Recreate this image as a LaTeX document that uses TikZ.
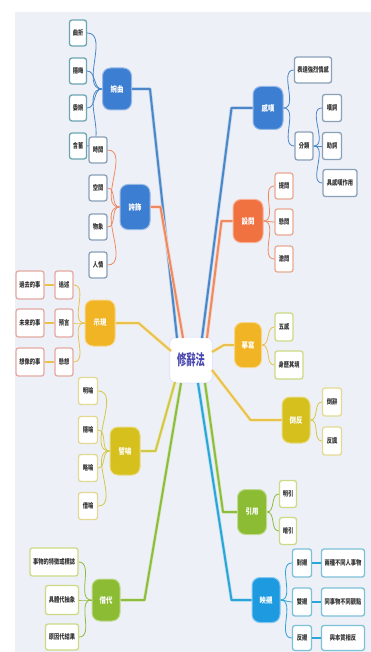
\documentclass[tikz,border=0pt]{standalone}
\usepackage{fontspec}
\newfontfamily\cjkA[FakeStretch=0.75]{Noto Sans CJK TC}
\newfontfamily\cjkB[FakeStretch=0.8]{Noto Sans CJK TC}
\newfontfamily\cjkC[FakeStretch=0.62]{Noto Sans CJK TC}
\definecolor{bgc}{HTML}{EEF0F8}
\definecolor{nblue}{HTML}{3C7ED2}
\definecolor{nsky}{HTML}{1E9BE0}
\definecolor{norange}{HTML}{F07240}
\definecolor{ngold}{HTML}{F0B424}
\definecolor{nolive}{HTML}{D6C01E}
\definecolor{ngreen}{HTML}{8CBC34}
\definecolor{lblue}{HTML}{4A86C8}
\definecolor{lorange}{HTML}{EE8A62}
\definecolor{lgold}{HTML}{E8C24C}
\definecolor{lolive}{HTML}{D2C848}
\definecolor{lgreen}{HTML}{8DBD3E}
\definecolor{lsky}{HTML}{2AA5D8}
\definecolor{bteal}{HTML}{6AA6B0}
\definecolor{bgrey}{HTML}{8AA0B8}
\definecolor{bpink}{HTML}{E2AAA2}
\definecolor{byel}{HTML}{E2DA92}
\definecolor{bygr}{HTML}{CCDA84}
\definecolor{bsalm}{HTML}{E8AA92}
\definecolor{bcyan}{HTML}{7CC0D8}
\definecolor{ctext}{HTML}{4A48B0}
\tikzset{
  mainnode/.style={fill=#1, draw=#1!55!white, line width=1pt, rounded corners=8pt,
    text=white, font=\cjkB\bfseries\fontsize{8}{9}\selectfont, inner sep=1pt},
  leaf/.style={fill=white, draw=#1, line width=1.3pt, rounded corners=2.5pt,
    text=black!80, font=\cjkA\bfseries\fontsize{7}{8}\selectfont, inner sep=1pt,
    minimum height=26pt},
  branch/.style={draw=#1, line width=2pt, line join=round,
    preaction={draw=#1!35!white, line width=3.4pt, line join=round}},
  twig/.style={draw=#1, line width=0.8pt},
}
\begin{document}
\begin{tikzpicture}[x=1pt,y=-1pt]
\useasboundingbox (0,0) rectangle (371,652);
\fill[white] (0,0) rectangle (371,652);
\fill[bgc] (15,12) rectangle (371,652);

% centre
\node[fill=white, draw=bgc!70!blue!30, line width=1pt, rounded corners=7pt,
  minimum width=43pt, minimum height=46pt, inner sep=0pt,
  text=ctext, font=\cjkC\bfseries\fontsize{15}{16}\selectfont] (ctr) at (191,360) {修辭法};
\coordinate (e1) at (177,338);
\coordinate (e2) at (183,338);
\coordinate (e3) at (171,351);
\coordinate (e4) at (175,382);
\coordinate (e5) at (181,383);
\coordinate (e6) at (202,338);
\coordinate (e7) at (207,338);
\coordinate (e8) at (212,352);
\coordinate (e9) at (212,370);
\coordinate (e10) at (205,383);
\coordinate (e11) at (198,383);

% main nodes
\node[mainnode=nblue, minimum width=29pt, minimum height=42pt] (wq) at (117,89) {婉曲};
\node[mainnode=nblue, minimum width=30pt, minimum height=45pt] (kf) at (135,207) {誇飾};
\node[mainnode=ngold, minimum width=30pt, minimum height=46pt] (sx) at (100,323) {示現};
\node[mainnode=nolive, minimum width=30pt, minimum height=48pt] (py) at (125,451) {譬喻};
\node[mainnode=ngreen, minimum width=28pt, minimum height=42pt] (jd) at (106,600) {借代};
\node[mainnode=nblue, minimum width=30pt, minimum height=43pt] (gt) at (268,108) {感嘆};
\node[mainnode=norange, minimum width=30pt, minimum height=43pt] (sw) at (248,221) {設問};
\node[mainnode=ngold, minimum width=27pt, minimum height=45pt] (mx) at (248,345) {摹寫};
\node[mainnode=nolive, minimum width=28pt, minimum height=46pt] (df) at (296,420) {倒反};
\node[mainnode=ngreen, minimum width=29pt, minimum height=45pt] (yy) at (252,512) {引用};
\node[mainnode=nsky, minimum width=28pt, minimum height=45pt] (yc) at (266,600) {映襯};

% branches to centre
\draw[branch=lblue] (wq.east) -- ++(18,0) -- (e1);
\draw[branch=lorange] (kf.east) -- ++(10,0) -- (e2);
\draw[branch=lgold] (sx.east) -- ++(23,0) -- (e3);
\draw[branch=lolive] (py.east) -- ++(15,0) -- (e4);
\draw[branch=lgreen] (jd.east) -- ++(24,0) -- (e5);
\draw[branch=lblue] (gt.west) -- ++(-21,0) -- (e6);
\draw[branch=lorange] (sw.west) -- ++(-11,0) -- (e7);
\draw[branch=lgold] (mx.west) -- ++(-10,0) -- (e8);
\draw[branch=lgold] (df.west) -- ++(-31,0) -- (e9);
\draw[branch=lgreen] (yy.west) -- ++(-14,0) -- (e10);
\draw[branch=lsky] (yc.west) -- ++(-20,0) -- (e11);

% 婉曲
\node[leaf=bteal, minimum width=17pt] (w1) at (78,33) {曲折};
\node[leaf=bteal, minimum width=17pt] (w2) at (78,71) {隱晦};
\node[leaf=bteal, minimum width=17pt] (w3) at (78,108) {委婉};
\node[leaf=bteal, minimum width=17pt] (w4) at (78,146) {含蓄};
\foreach \c in {w1,w2,w3,w4} \draw[twig=lblue] (wq.west) to[out=180,in=0] (\c.east);

% 誇飾
\node[leaf=bgrey, minimum width=18pt] (k1) at (98,150) {時間};
\node[leaf=bgrey, minimum width=18pt] (k2) at (98,188) {空間};
\node[leaf=bgrey, minimum width=18pt] (k3) at (98,227) {物象};
\node[leaf=bgrey, minimum width=18pt] (k4) at (98,265) {人情};
\foreach \c in {k1,k2,k3,k4} \draw[twig=lorange] (kf.west) to[out=180,in=0] (\c.east);

% 示現
\node[leaf=bpink, minimum width=18pt, minimum height=28pt] (s1) at (64,285) {追述};
\node[leaf=bpink, minimum width=18pt, minimum height=28pt] (s2) at (64,323) {預言};
\node[leaf=bpink, minimum width=18pt, minimum height=28pt] (s3) at (64,362) {懸想};
\node[leaf=bpink, minimum width=28pt, minimum height=28pt] (t1) at (30,285) {過去的事};
\node[leaf=bpink, minimum width=28pt, minimum height=28pt] (t2) at (30,323) {未來的事};
\node[leaf=bpink, minimum width=28pt, minimum height=28pt] (t3) at (30,362) {想像的事};
\foreach \c in {s1,s2,s3} \draw[twig=lgold] (sx.west) to[out=180,in=0] (\c.east);
\draw[twig=lgold, line width=1.2pt] (s1.west) -- (t1.east);
\draw[twig=lgold, line width=1.2pt] (s2.west) -- (t2.east);
\draw[twig=lgold, line width=1.2pt] (s3.west) -- (t3.east);

% 譬喻
\node[leaf=byel, minimum width=19pt, minimum height=27pt] (p1) at (88,391) {明喻};
\node[leaf=byel, minimum width=19pt, minimum height=27pt] (p2) at (88,430) {隱喻};
\node[leaf=byel, minimum width=19pt, minimum height=27pt] (p3) at (88,468) {略喻};
\node[leaf=byel, minimum width=19pt, minimum height=27pt] (p4) at (88,506) {借喻};
\foreach \c in {p1,p2,p3,p4} \draw[twig=lolive] (py.west) to[out=180,in=0] (\c.east);

% 借代
\node[leaf=bygr, minimum width=48pt, minimum height=28pt] (j1) at (54,562) {事物的特徵或標誌};
\node[leaf=bygr, minimum width=33pt, minimum height=29pt] (j2) at (62,600) {具體代抽象};
\node[leaf=bygr, minimum width=33pt, minimum height=26pt] (j3) at (62,637) {原因代結果};
\foreach \c in {j1,j2,j3} \draw[twig=lgreen] (jd.west) to[out=180,in=0] (\c.east);

% 感嘆
\node[leaf=bgrey, minimum width=37pt] (g1) at (313,70) {表達強烈情感};
\node[leaf=bgrey, minimum width=18pt, minimum height=28pt] (g2) at (304,146) {分類};
\node[leaf=bgrey, minimum width=19pt, minimum height=27pt] (g21) at (332,108) {嘆詞};
\node[leaf=bgrey, minimum width=19pt, minimum height=27pt] (g22) at (332,146) {助詞};
\node[leaf=bgrey, minimum width=34pt, minimum height=27pt] (g23) at (340,183) {具感嘆作用};
\draw[twig=lblue] (gt.east) to[out=0,in=180] (g1.west);
\draw[twig=lblue] (gt.east) to[out=0,in=180] (g2.west);
\foreach \c in {g21,g22,g23} \draw[twig=lblue] (g2.east) to[out=0,in=180] (\c.west);

% 設問
\node[leaf=bsalm, minimum width=18pt] (q1) at (284,186) {提問};
\node[leaf=bsalm, minimum width=18pt] (q2) at (284,222) {懸問};
\node[leaf=bsalm, minimum width=18pt] (q3) at (284,259) {激問};
\foreach \c in {q1,q2,q3} \draw[twig=lorange] (sw.east) to[out=0,in=180] (\c.west);

% 摹寫
\node[leaf=bygr, minimum width=18pt, minimum height=28pt] (m1) at (284,327) {五感};
\node[leaf=bygr, minimum width=28pt, minimum height=28pt] (m2) at (289,365) {身歷其境};
\foreach \c in {m1,m2} \draw[twig=lgold] (mx.east) to[out=0,in=180] (\c.west);

% 倒反
\node[leaf=byel, minimum width=19pt, minimum height=28pt] (d1) at (332,402) {倒辭};
\node[leaf=byel, minimum width=19pt, minimum height=28pt] (d2) at (332,441) {反諷};
\foreach \c in {d1,d2} \draw[twig=lolive] (df.east) to[out=0,in=180] (\c.west);

% 引用
\node[leaf=bygr, minimum width=17pt, minimum height=27pt] (y1) at (288,494) {明引};
\node[leaf=bygr, minimum width=17pt, minimum height=27pt] (y2) at (288,531) {暗引};
\foreach \c in {y1,y2} \draw[twig=lgreen] (yy.east) to[out=0,in=180] (\c.west);

% 映襯
\node[leaf=bcyan, minimum width=19pt, minimum height=28pt] (c1) at (302,563) {對襯};
\node[leaf=bcyan, minimum width=19pt, minimum height=28pt] (c2) at (302,602) {雙襯};
\node[leaf=bcyan, minimum width=19pt, minimum height=25pt] (c3) at (302,638) {反襯};
\node[leaf=bcyan, minimum width=43pt, minimum height=28pt] (c1b) at (343,563) {兩種不同人事物};
\node[leaf=bcyan, minimum width=43pt, minimum height=28pt] (c2b) at (343,602) {同事物不同觀點};
\node[leaf=bcyan, minimum width=43pt, minimum height=25pt] (c3b) at (343,638) {與本質相反};
\foreach \c in {c1,c2,c3} \draw[twig=lsky] (yc.east) to[out=0,in=180] (\c.west);
\draw[twig=lsky, line width=1.2pt] (c1.east) -- (c1b.west);
\draw[twig=lsky, line width=1.2pt] (c2.east) -- (c2b.west);
\draw[twig=lsky, line width=1.2pt] (c3.east) -- (c3b.west);
\end{tikzpicture}
\end{document}
